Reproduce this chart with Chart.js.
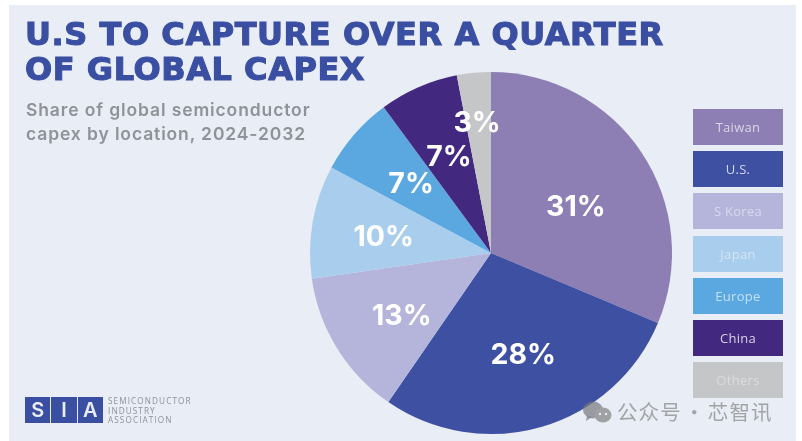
<!DOCTYPE html>
<html lang="en">
<head>
<meta charset="utf-8">
<title>Share of global semiconductor capex</title>
<script src="https://cdn.jsdelivr.net/npm/chart.js@4"></script>
<style>
  html, body { margin: 0; padding: 0; background: #fff; }
  #page { position: relative; width: 802px; height: 441px; overflow: hidden; background: #fff; }
  #panel { position: absolute; left: 9px; top: 5px; width: 787px; height: 436px; background: #e8edf6; }
  #chartBox { position: absolute; left: 0; top: 0; width: 802px; height: 441px; }
  .abs { position: absolute; white-space: nowrap; }
  #headline { left: 25px; top: 17px; font: 800 32px/35px "DejaVu Sans", sans-serif; letter-spacing: 0.55px; color: #3a4fa2; -webkit-text-stroke: 1.1px #3a4fa2; }
  #subhead { left: 26px; top: 98px; font: 600 17.5px/24px "Inter", sans-serif; letter-spacing: 0.88px; color: #8f9296; }
  #legend { position: absolute; left: 693px; top: 109px; width: 90px; }
  .key { height: 36px; margin-bottom: 6.2px; text-align: center; font: 400 13px/36px "Open Sans", sans-serif; letter-spacing: 0.3px; }
  #logo { position: absolute; left: 25px; top: 397px; display: flex; gap: 1px; }
  #logo span { display: block; width: 25.3px; height: 26px; background: #3a4fa2; color: #e8edf6; text-align: center; font: 600 20px/26px "Inter", sans-serif; }
  #logoText { left: 108px; top: 396px; font: 400 8.2px/9.5px "Open Sans", sans-serif; letter-spacing: 1.1px; color: #8f9296; }
  #mark { left: 617px; top: 398px; font: 400 20.5px/27px "Noto Sans CJK SC", sans-serif; letter-spacing: 1.1px; word-spacing: -3.5px; color: #a3a4a6; }
  #wechat { position: absolute; left: 581px; top: 399px; }
</style>
</head>
<body>
<div id="page">
  <div id="panel"></div>
  <div id="chartBox"><canvas id="pie" width="802" height="441"></canvas></div>
  <div id="headline" class="abs">U.S TO CAPTURE OVER A QUARTER<br>OF GLOBAL CAPEX</div>
  <div id="subhead" class="abs">Share of global semiconductor<br>capex by location, 2024-2032</div>
  <div id="legend"></div>
  <div id="logo"><span>S</span><span>I</span><span>A</span></div>
  <div id="logoText" class="abs">SEMICONDUCTOR<br>INDUSTRY<br>ASSOCIATION</div>
  <svg id="wechat" width="32" height="26" viewBox="0 0 32 26">
    <ellipse cx="12" cy="11" rx="10" ry="8.5" fill="#76787e" fill-opacity="0.7"/>
    <path d="M6 17 L5 22 L11 18 Z" fill="#76787e" fill-opacity="0.7"/>
    <ellipse cx="22" cy="16" rx="8.5" ry="7.5" fill="#a0a1a3"/>
    <circle cx="19" cy="15" r="1.2" fill="#e8edf6"/>
    <circle cx="25" cy="15" r="1.2" fill="#e8edf6"/>
  </svg>
  <div id="mark" class="abs">公众号 · 芯智讯</div>
</div>
<script>
// Capex share by location, in percent
const locations = ['Taiwan', 'U.S.', 'S Korea', 'Japan', 'Europe', 'China', 'Others'];
const shares = [31, 28, 13, 10, 7, 7, 3];
const sliceColors = ['#8d7eb4', '#3e50a2', '#b5b4da', '#a9cdec', '#5aa8df', '#43287f', '#c5c6c8'];
const keyTextColors = ['#d9d6e6', '#d5daee', '#d9d9ec', '#d3e5f5', '#c4e0f4', '#d8d3e6', '#dcdcde'];

// Label placement per slice: fraction of the radius and angular nudge in degrees
const labelRadius = [0.536, 0.59, 0.60, 0.60, 0.587, 0.584, 0.728];
const labelNudge = [4.7, -1.2, -3, -1, 0.3, 0.2, -0.6];

// Key boxes beside the pie
const legend = document.getElementById('legend');
locations.forEach((name, i) => {
  const box = document.createElement('div');
  box.className = 'key';
  box.style.background = sliceColors[i];
  box.style.color = keyTextColors[i];
  box.textContent = name;
  legend.appendChild(box);
});

// Percent labels placed along each slice's radius
const sliceLabels = {
  id: 'sliceLabels',
  afterDatasetsDraw(chart) {
    const { ctx } = chart;
    const arcs = chart.getDatasetMeta(0).data;
    ctx.save();
    ctx.fillStyle = '#ffffff';
    ctx.font = '700 28.5px "Inter", sans-serif';
    ctx.textAlign = 'center';
    ctx.textBaseline = 'middle';
    arcs.forEach((arc, i) => {
      const mid = (arc.startAngle + arc.endAngle) / 2 + labelNudge[i] * Math.PI / 180;
      const r = arc.outerRadius * labelRadius[i];
      ctx.fillText(shares[i] + '%', arc.x + Math.cos(mid) * r, arc.y + Math.sin(mid) * r + 1);
    });
    ctx.restore();
  }
};

new Chart(document.getElementById('pie'), {
  type: 'pie',
  data: {
    labels: locations,
    datasets: [{ data: shares, backgroundColor: sliceColors, borderWidth: 0 }]
  },
  options: {
    responsive: false,
    animation: false,
    layout: { padding: { left: 310, right: 130, top: 72, bottom: 7 } },
    plugins: { legend: { display: false }, tooltip: { enabled: false } }
  },
  plugins: [sliceLabels]
});
</script>
</body>
</html>
